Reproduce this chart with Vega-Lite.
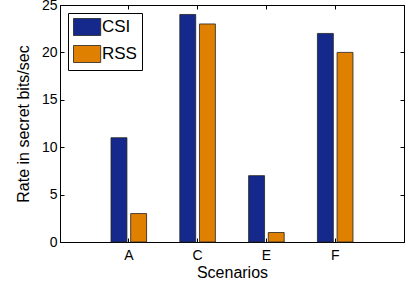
{
  "$schema": "https://vega.github.io/schema/vega-lite/v6.json",
  "width": 344,
  "height": 237,
  "autosize": {"type": "none"},
  "padding": {"left": 60, "top": 5, "right": 13, "bottom": 44},
  "background": "white",
  "data": {
    "values": [
      {"scenario": "A", "series": "CSI", "rate": 11},
      {"scenario": "A", "series": "RSS", "rate": 3},
      {"scenario": "C", "series": "CSI", "rate": 24},
      {"scenario": "C", "series": "RSS", "rate": 23},
      {"scenario": "E", "series": "CSI", "rate": 7},
      {"scenario": "E", "series": "RSS", "rate": 1},
      {"scenario": "F", "series": "CSI", "rate": 22},
      {"scenario": "F", "series": "RSS", "rate": 20}
    ]
  },
  "layer": [
    {
      "mark": {"type": "bar", "stroke": "#222222", "strokeWidth": 0.8},
      "encoding": {
        "x": {
          "field": "scenario", "type": "nominal", "sort": ["A", "C", "E", "F"],
          "scale": {"type": "band", "paddingInner": 0.42, "paddingOuter": 0.71},
          "axis": {"orient": "bottom", "title": "Scenarios", "labelAngle": 0, "labelPadding": 10, "titlePadding": 2}
        },
        "xOffset": {
          "field": "series", "type": "nominal",
          "scale": {"paddingInner": 0.19, "paddingOuter": 0.11}
        },
        "y": {
          "field": "rate", "type": "quantitative",
          "scale": {"domain": [0, 25], "nice": false},
          "axis": {"orient": "left", "title": "Rate in secret bits/sec", "values": [0, 5, 10, 15, 20, 25], "labelPadding": 7, "titlePadding": 10}
        },
        "color": {
          "field": "series", "type": "nominal",
          "scale": {"domain": ["CSI", "RSS"], "range": ["#15288c", "#e08000"]},
          "legend": {
            "title": null, "orient": "none", "legendX": 8, "legendY": 8,
            "strokeColor": "black", "fillColor": "white", "padding": 5,
            "symbolType": "M-1,-1H2.2V1H-1Z", "symbolSize": 289,
            "symbolStrokeColor": "#222222", "symbolStrokeWidth": 0.8, "symbolOpacity": 1,
            "labelFontSize": 17, "labelOffset": 11, "rowPadding": 5, "labelColor": "black",
            "labelFont": "Liberation Sans"
          }
        }
      }
    },
    {
      "mark": {"type": "bar", "opacity": 0},
      "encoding": {
        "x": {
          "field": "scenario", "type": "nominal", "sort": ["A", "C", "E", "F"],
          "axis": {"orient": "top", "title": null, "labels": false}
        },
        "xOffset": {"field": "series", "type": "nominal"},
        "y": {
          "field": "rate", "type": "quantitative",
          "axis": {"orient": "right", "title": null, "labels": false, "values": [0, 5, 10, 15, 20, 25]}
        }
      }
    }
  ],
  "resolve": {"axis": {"x": "independent", "y": "independent"}},
  "config": {
    "view": {"stroke": "black", "strokeWidth": 1},
    "axis": {
      "grid": false,
      "domainColor": "black",
      "domainWidth": 1,
      "tickColor": "black",
      "tickSize": -4,
      "labelFont": "Liberation Sans",
      "labelFontSize": 14,
      "labelColor": "black",
      "titleFont": "Liberation Sans",
      "titleFontSize": 16,
      "titleFontWeight": "normal",
      "titleColor": "black"
    }
  }
}
